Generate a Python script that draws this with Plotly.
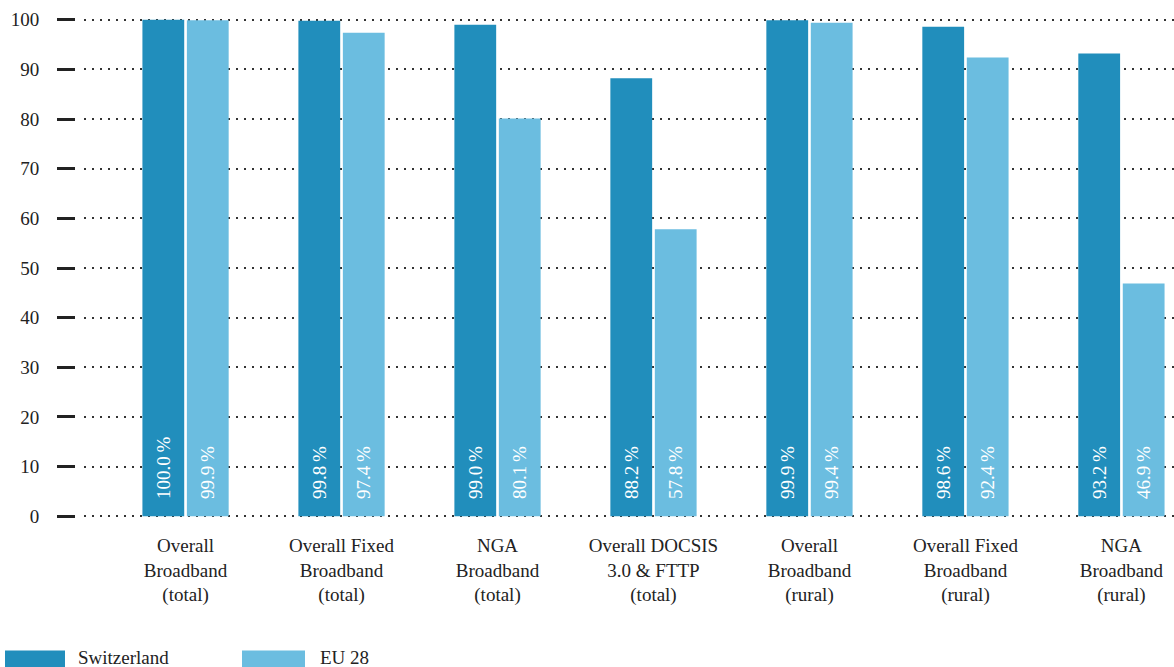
import plotly.graph_objects as go

categories = [
    "Overall<br>Broadband<br>(total)",
    "Overall Fixed<br>Broadband<br>(total)",
    "NGA<br>Broadband<br>(total)",
    "Overall DOCSIS<br>3.0 & FTTP<br>(total)",
    "Overall<br>Broadband<br>(rural)",
    "Overall Fixed<br>Broadband<br>(rural)",
    "NGA<br>Broadband<br>(rural)",
]
switzerland = [100.0, 99.8, 99.0, 88.2, 99.9, 98.6, 93.2]
eu28 = [99.9, 97.4, 80.1, 57.8, 99.4, 92.4, 46.9]
series_names = ["Switzerland", "EU 28"]
y_ticks = [0, 10, 20, 30, 40, 50, 60, 70, 80, 90, 100]

DARK = "#218EBC"
LIGHT = "#6BBDE0"
FONT = "Liberation Serif, DejaVu Serif, serif"
TXT = "#222222"
PAD = "\u00a0" * 3

def labels(vals):
    return [PAD + f"{v:.1f}\u2009%" for v in vals]

fig = go.Figure()
for name, vals, col in [(series_names[0], switzerland, DARK), (series_names[1], eu28, LIGHT)]:
    fig.add_trace(go.Bar(
        x=categories, y=vals, name=name, marker=dict(color=col, line=dict(width=0)),
        text=labels(vals), textposition="inside", insidetextanchor="start",
        textangle=-90, insidetextfont=dict(color="white", size=19, family=FONT),
        hoverinfo="skip", showlegend=False,
    ))

# invisible trace to carry the detached tick axis
fig.add_trace(go.Scatter(x=[categories[0]], y=[0], yaxis="y2", mode="markers",
                         marker=dict(opacity=0), hoverinfo="skip", showlegend=False))

W, H = 1174, 667
YMIN, YMAX = -0.35, 100.35
PX_PER = 496 / 100.0
y_top_px = 20 - (YMAX - 100) * PX_PER
y_bot_px = 516 + (0 - YMIN) * PX_PER
ML, MR = 75, 0
MT = y_top_px
MB = H - y_bot_px
ph = y_bot_px - y_top_px
pw = W - ML - MR
plot_left = 84
xdom0 = (plot_left - ML) / pw

fig.update_layout(
    width=W, height=H,
    margin=dict(l=ML, r=MR, t=MT, b=MB, pad=0),
    paper_bgcolor="white", plot_bgcolor="white",
    barmode="group", bargap=0.43, bargroupgap=0.06,
    font=dict(family=FONT, size=19, color=TXT),
    xaxis=dict(domain=[xdom0, 1], range=[-0.651, 6.337], showgrid=False, zeroline=False,
               showline=False, ticks="", ticklabelstandoff=14,
               tickfont=dict(family=FONT, size=19, color=TXT)),
    yaxis=dict(range=[YMIN, YMAX], tickvals=y_ticks, showticklabels=False, ticks="",
               showgrid=True, gridcolor="#333333", gridwidth=1.5, griddash="1.5px,6.5px",
               zeroline=False, showline=False),
    yaxis2=dict(range=[YMIN, YMAX], tickvals=y_ticks, overlaying="y", anchor="free", position=0,
                side="left", showgrid=False, zeroline=False, showline=False,
                ticks="outside", ticklen=18, tickwidth=3, tickcolor=TXT,
                ticklabelstandoff=14,
                tickfont=dict(family=FONT, size=19, color=TXT)),
    showlegend=False,
)

def px_x(p):
    return (p - ML) / pw

def px_y(p):
    return (y_bot_px - p) / ph

shapes = []
annotations = []
legend_items = [(series_names[0], DARK, 5, 65, 76), (series_names[1], LIGHT, 242, 305, 318)]
for name, col, x0, x1, tx in legend_items:
    shapes.append(dict(type="rect", xref="paper", yref="paper",
                       x0=px_x(x0), x1=px_x(x1), y0=px_y(650), y1=px_y(672),
                       fillcolor=col, line=dict(width=0), layer="above"))
    annotations.append(dict(xref="paper", yref="paper", x=px_x(tx), y=px_y(657),
                            xanchor="left", yanchor="middle", showarrow=False,
                            text=name, font=dict(family=FONT, size=19, color=TXT)))
fig.update_layout(shapes=shapes, annotations=annotations)

fig.write_html("out.html")
